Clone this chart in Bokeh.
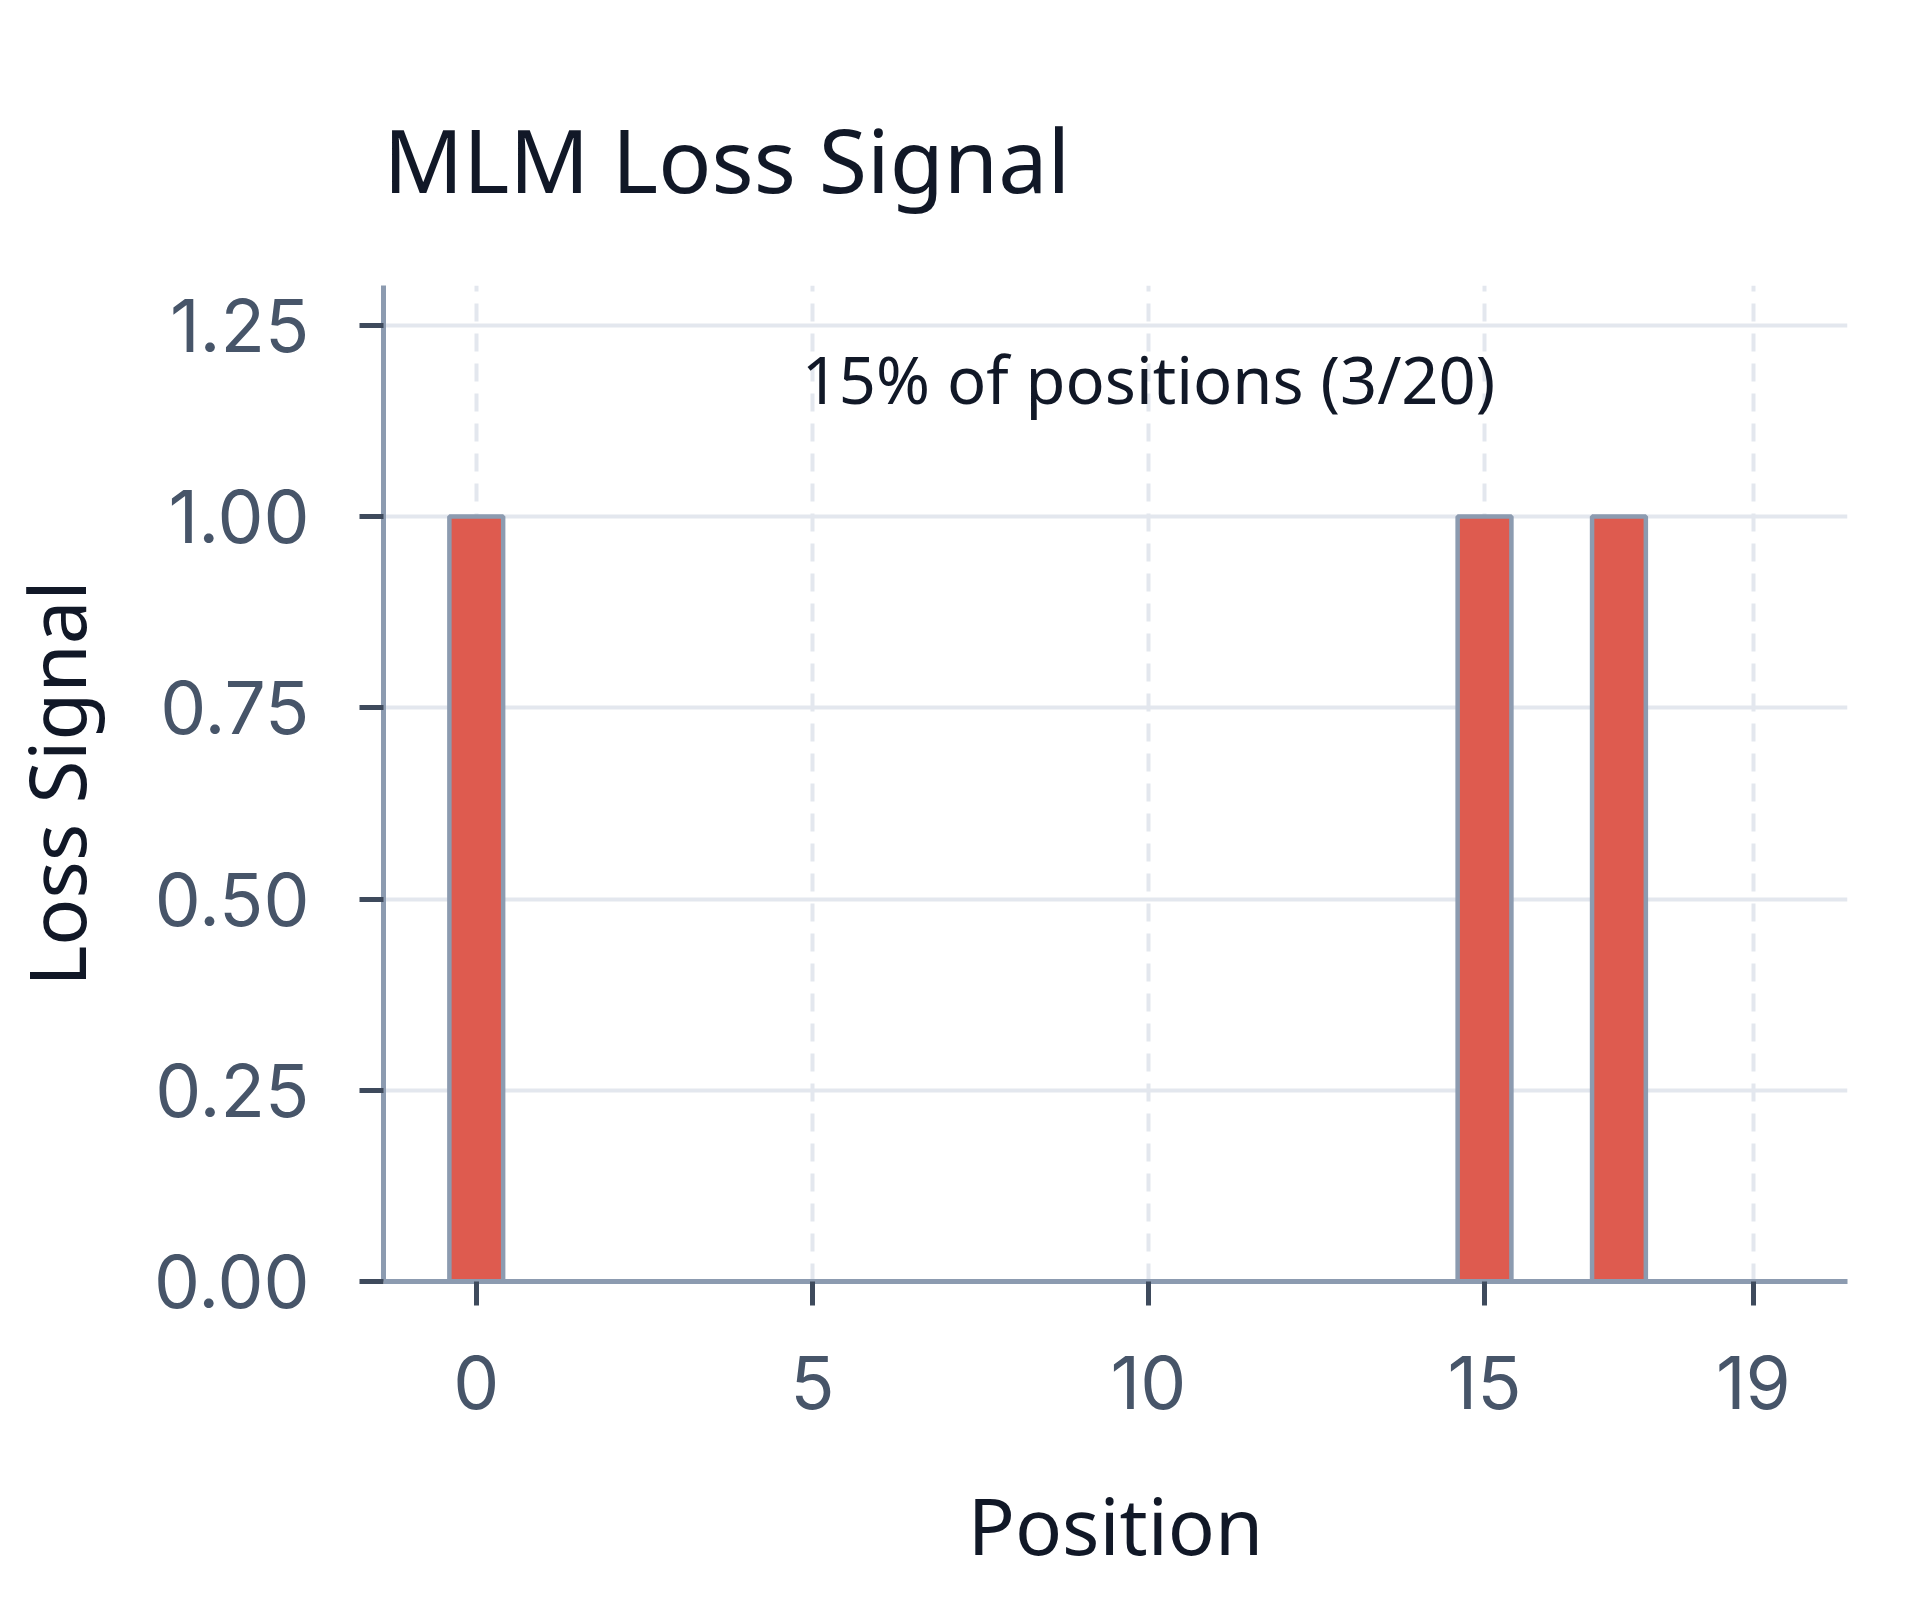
from bokeh.plotting import figure
from bokeh.models import Range1d, FixedTicker, NumeralTickFormatter, ColumnDataSource
from bokeh.core.properties import value
from bokeh.embed import file_html
from bokeh.resources import INLINE

# ---- data ----
positions = [0, 1, 2, 3, 4, 5, 6, 7, 8, 9, 10, 11, 12, 13, 14, 15, 16, 17, 18, 19]
loss_signal = [1, 0, 0, 0, 0, 0, 0, 0, 0, 0, 0, 0, 0, 0, 0, 1, 0, 1, 0, 0]
x_ticks = [0, 5, 10, 15, 19]
y_ticks = [0.0, 0.25, 0.5, 0.75, 1.0, 1.25]
title_text = "MLM Loss Signal"
note_text = "15% of positions (3/20)"
note_x = [10]
note_y = [1.18]

FONT = "Noto Sans"
TICK_FONT = "Inter"
BAR_FILL = "#DE5B4F"
OUTLINE = "#8C9BB0"
AXIS = "#8C9BB0"
TICK = "#3E4A5C"
LABEL = "#475569"
DARK = "#111827"
GRID = "#E3E7EE"

src = ColumnDataSource(dict(x=positions, top=loss_signal))

p = figure(width=1904, height=1584, output_backend="svg", toolbar_location=None,
           x_range=Range1d(-1.38, 20.4), y_range=Range1d(0, 1.302),
           min_border_left=380, min_border_right=57, min_border_top=285, min_border_bottom=303)
p.outline_line_color = None
p.background_fill_color = "white"
p.border_fill_color = "white"

# title
p.title.text = title_text
p.title.text_font = FONT
p.title.text_font_size = "88px"
p.title.text_font_style = "normal"
p.title.text_color = DARK
p.title.align = "left"
p.title.standoff = 133

# grids
p.xgrid.grid_line_color = GRID
p.xgrid.grid_line_width = 4
p.xgrid.grid_line_dash = "18 12"
p.ygrid.grid_line_color = GRID
p.ygrid.grid_line_width = 4

p.vbar(x="x", top="top", bottom=0, width=0.8, source=src,
       fill_color=BAR_FILL, line_color=OUTLINE, line_width=4.5)

p.text(x=note_x, y=note_y, text=[note_text], text_font=value(FONT),
       text_font_size="65px", text_color=DARK, text_align="center",
       text_baseline="middle")

for ax in (p.xaxis[0], p.yaxis[0]):
    ax.axis_line_color = AXIS
    ax.axis_line_width = 5
    ax.major_tick_line_color = TICK
    ax.major_tick_line_width = 5
    ax.major_tick_out = 24
    ax.major_tick_in = 0
    ax.minor_tick_line_color = None
    ax.major_label_text_font = TICK_FONT
    ax.major_label_text_font_size = "73px"
    ax.major_label_text_color = LABEL
    ax.major_label_standoff = 50
    ax.axis_label_text_font = FONT
    ax.axis_label_text_font_size = "78px"
    ax.axis_label_text_font_style = "normal"
    ax.axis_label_text_color = DARK

p.xaxis.ticker = FixedTicker(ticks=x_ticks)
p.yaxis.ticker = FixedTicker(ticks=y_ticks)
p.yaxis.formatter = NumeralTickFormatter(format="0.00")
p.xaxis.axis_label = "Position"
p.yaxis.axis_label = "Loss Signal"
p.xaxis.axis_label_standoff = 60
p.yaxis.axis_label_standoff = 42

open("out.html", "w").write(file_html(p, INLINE))
